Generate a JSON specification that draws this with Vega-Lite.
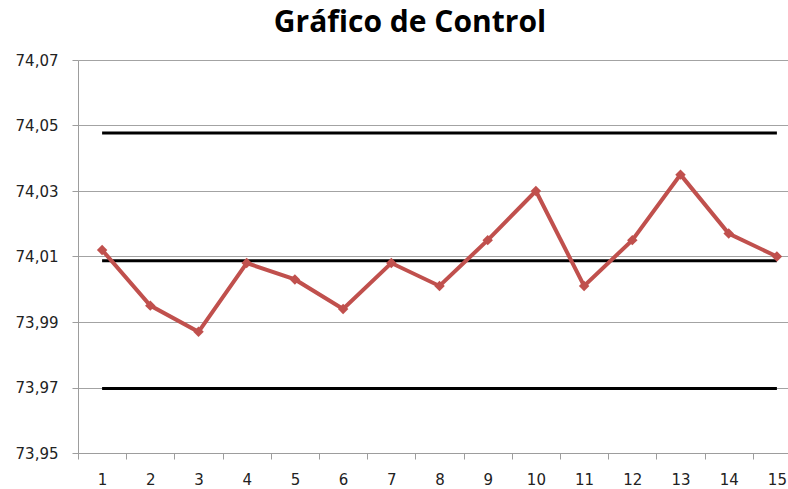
{
  "$schema": "https://vega.github.io/schema/vega-lite/v6.json",
  "width": 710,
  "height": 393,
  "autosize": "none",
  "padding": {"left": 78, "top": 60, "right": 0, "bottom": 36},
  "background": "white",
  "title": {
    "text": "Gráfico de Control",
    "font": "Open Sans",
    "fontSize": 30,
    "fontWeight": "bold",
    "color": "#000000",
    "anchor": "middle",
    "frame": "group",
    "dx": -23,
    "baseline": "alphabetic",
    "offset": -9
  },
  "datasets": {
    "muestras": [
      {"muestra": "1", "media": 74.012},
      {"muestra": "2", "media": 73.995},
      {"muestra": "3", "media": 73.987},
      {"muestra": "4", "media": 74.008},
      {"muestra": "5", "media": 74.003},
      {"muestra": "6", "media": 73.994},
      {"muestra": "7", "media": 74.008},
      {"muestra": "8", "media": 74.001},
      {"muestra": "9", "media": 74.015},
      {"muestra": "10", "media": 74.030},
      {"muestra": "11", "media": 74.001},
      {"muestra": "12", "media": 74.015},
      {"muestra": "13", "media": 74.035},
      {"muestra": "14", "media": 74.017},
      {"muestra": "15", "media": 74.010}
    ],
    "limites": [
      {"limite": "LSC", "muestra": "1", "valor": 74.0477},
      {"limite": "LSC", "muestra": "15", "valor": 74.0477},
      {"limite": "LC", "muestra": "1", "valor": 74.0087},
      {"limite": "LC", "muestra": "15", "valor": 74.0087},
      {"limite": "LIC", "muestra": "1", "valor": 73.9697},
      {"limite": "LIC", "muestra": "15", "valor": 73.9697}
    ]
  },
  "encoding": {
    "x": {
      "field": "muestra",
      "type": "ordinal",
      "sort": ["1","2","3","4","5","6","7","8","9","10","11","12","13","14","15"],
      "scale": {"domain": ["1","2","3","4","5","6","7","8","9","10","11","12","13","14","15"], "range": [0, 723], "paddingInner": 0, "paddingOuter": 0},
      "axis": {
        "title": null,
        "labelAngle": 0,
        "grid": false,
        "tickBand": "extent",
        "tickSize": 6,
        "tickColor": "#9d9d9d",
        "domainColor": "#9d9d9d",
        "labelPadding": 13,
        "labelFont": "DejaVu Sans",
        "labelFontSize": 15,
        "labelColor": "#222222"
      }
    },
    "y": {
      "type": "quantitative",
      "scale": {"domain": [73.95, 74.07], "zero": false, "nice": false},
      "axis": {
        "title": null,
        "values": [73.95, 73.97, 73.99, 74.01, 74.03, 74.05, 74.07],
        "labelExpr": "replace(format(datum.value, '.2f'), '.', ',')",
        "grid": true,
        "gridColor": "#a3a3a3",
        "gridWidth": 1,
        "tickSize": 6,
        "tickColor": "#9d9d9d",
        "domainColor": "#9d9d9d",
        "labelPadding": 14,
        "labelFont": "DejaVu Sans",
        "labelFontSize": 15,
        "labelColor": "#222222"
      }
    }
  },
  "layer": [
    {
      "data": {"name": "limites"},
      "mark": {"type": "line", "color": "#000000", "strokeWidth": 3},
      "encoding": {
        "y": {"field": "valor", "type": "quantitative"},
        "detail": {"field": "limite", "type": "nominal"}
      }
    },
    {
      "data": {"name": "muestras"},
      "mark": {"type": "line", "color": "#c0504d", "strokeWidth": 4, "point": {"shape": "diamond", "size": 110, "filled": true, "color": "#c0504d"}},
      "encoding": {
        "y": {"field": "media", "type": "quantitative"}
      }
    }
  ],
  "config": {
    "view": {"stroke": null}
  }
}
